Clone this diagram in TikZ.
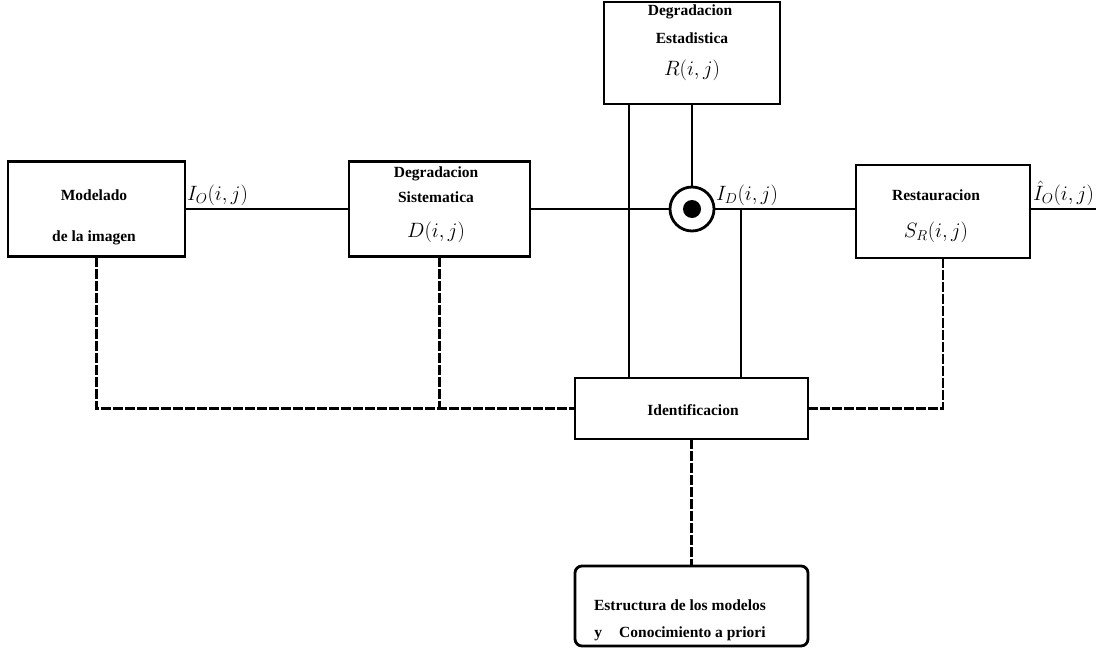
\documentclass[tikz,border=0pt]{standalone}
\usepackage{fontspec}
\setmainfont{Liberation Serif}
\usetikzlibrary{calc}
\begin{document}
\begin{tikzpicture}[x=1pt,y=-1pt,
  every node/.style={inner sep=0pt,outer sep=0pt},
  blk/.style={draw,line width=2.8pt,rectangle,minimum width=#1},
  lab/.style={font=\bfseries\fontsize{15.5}{18}\selectfont},
  mth/.style={font=\fontsize{21}{24}\selectfont},
  wire/.style={line width=2.8pt},
  fb/.style={line width=2.6pt,dash pattern=on 10pt off 2pt}]
\useasboundingbox (0,0) rectangle (1102,648);

% boxes
\node[blk=177pt,minimum height=95pt] (mod) at (96.5,209) {};
\node[lab] at (94,195) {Modelado};
\node[lab] at (94,238) {de la imagen};

\node[blk=181pt,minimum height=95pt] (sis) at (439.5,209) {};
\node[lab] at (436,174) {Degradacion};
\node[lab] at (436,197) {Sistematica};
\node[mth] at (436,232) {$D(i,j)$};

\node[blk=176pt,minimum height=102pt] (est) at (692,53) {};
\node[lab] at (690,12) {Degradacion};
\node[lab] at (692,38) {Estadistica};
\node[mth] at (692,70) {$R(i,j)$};

\node[draw,circle,line width=2.8pt,minimum size=44pt] (circ) at (692,209) {};
\node[circle,fill,minimum size=18pt] (dot) at (692,209) {};

\node[blk=174pt,minimum height=93pt] (res) at (943,211.5) {};
\node[lab] at (936,195) {Restauracion};
\node[mth] at (936,232) {$S_R(i,j)$};

\node[blk=233pt,minimum height=61pt] (iden) at (691.5,408.5) {};
\node[lab] at (693,410) {Identificacion};

\node[draw,line width=2.8pt,rounded corners=7pt,minimum width=233pt,minimum height=80pt] (estr) at (691.5,606) {};
\node[lab] at (680,605) {Estructura de los modelos};
\node[lab] at (680,634) {y\hspace{1.1em}Conocimiento a priori};

% labels
\node[mth,anchor=south west] (lio) at (187,206) {$I_O(i,j)$};
\node[mth,anchor=south west] (lid) at (716,206) {$I_D(i,j)$};
\node[mth,anchor=south west] (lout) at (1033,206) {$\hat{I}_O(i,j)$};

% main path
\coordinate (out) at (1096,209);
\coordinate (tap) at (741,209);
\draw[wire] (mod.east) -- (sis.west);
\draw[wire] (sis.east) -- (circ.west);
\draw[wire] (est.south) -- (circ.north);
\draw[wire] (circ.east) -- (circ.east -| res.west);
\draw[wire] (res.east |- out) -- (out);
\coordinate (estl) at ($(est.south west)+(25,0)$);
\draw[wire] (estl) -- (estl |- iden.north);
\draw[wire] (tap) -- (tap |- iden.north);

% feedback
\draw[fb] (mod.south) -- (mod.south |- iden.west) -- (iden.west);
\draw[fb] (sis.south) -- (sis.south |- iden.west);
\draw[fb] (res.south) -- (res.south |- iden.east) -- (iden.east);
\draw[fb] (iden.south) -- (estr.north);
\end{tikzpicture}
\end{document}
